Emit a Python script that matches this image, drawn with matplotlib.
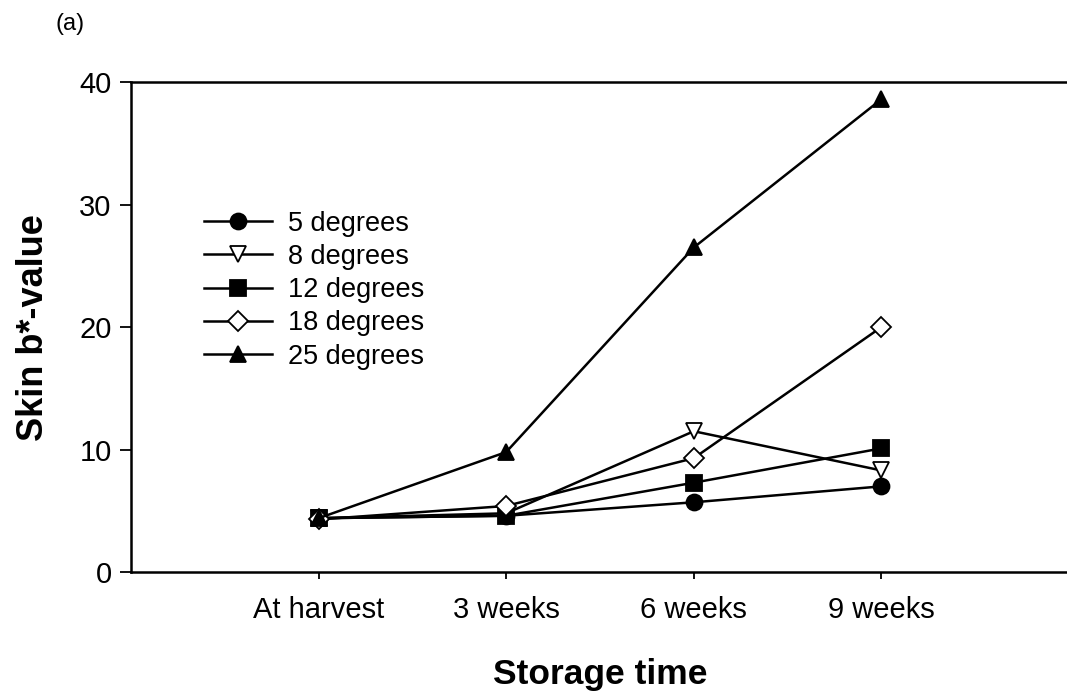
import matplotlib
matplotlib.use("Agg")
import matplotlib.pyplot as plt

plt.rcParams['font.family'] = ['Liberation Sans', 'DejaVu Sans']

# storage time categories
categories = ['At harvest', '3 weeks', '6 weeks', '9 weeks']

# skin b*-value per storage temperature
deg5 = [4.4, 4.6, 5.7, 7.0]
deg8 = [4.4, 4.8, 11.5, 8.3]
deg12 = [4.4, 4.6, 7.3, 10.1]
deg18 = [4.3, 5.4, 9.3, 20.0]
deg25 = [4.4, 9.8, 26.5, 38.6]

series = [
    ('5 degrees', deg5, 'o', 'black'),
    ('8 degrees', deg8, 'v', 'white'),
    ('12 degrees', deg12, 's', 'black'),
    ('18 degrees', deg18, 'D', 'white'),
    ('25 degrees', deg25, '^', 'black'),
]

fig = plt.figure(figsize=(10.67, 6.96), dpi=100)
ax = fig.add_axes([0.1228, 0.178, 0.879, 0.704])

x = list(range(len(categories)))
for label, vals, marker, face in series:
    ms = 10 if marker == 'D' else 11.5
    ax.plot(x, vals, color='black', linewidth=1.8, marker=marker,
            markersize=ms, markerfacecolor=face, markeredgecolor='black',
            markeredgewidth=1.3, label=label)

ax.set_xlim(-1, 4)
ax.set_ylim(0, 40)
ax.set_xticks(x)
ax.set_xticklabels(categories)
ax.set_yticks([0, 10, 20, 30, 40])
ax.tick_params(axis='both', direction='out', labelsize=21, width=1.3, length=8)
ax.tick_params(axis='x', length=5, pad=12)
ax.tick_params(axis='y', pad=6)

for side in ['left', 'top', 'bottom']:
    ax.spines[side].set_linewidth(1.8)
ax.spines['right'].set_visible(False)

ax.set_ylabel('Skin b*-value', fontsize=26, fontweight='bold', labelpad=20)
ax.set_xlabel('Storage time', fontsize=25.5, fontweight='bold', labelpad=25)

ax.legend(loc='upper left', bbox_to_anchor=(0.078, 0.738), frameon=False,
          fontsize=19.5, handlelength=2.5, handletextpad=0.6, labelspacing=0.27,
          borderaxespad=0, borderpad=0)

fig.text(0.052, 0.965, '(a)', fontsize=17, va='center')

fig.savefig('out.png', dpi=100)
